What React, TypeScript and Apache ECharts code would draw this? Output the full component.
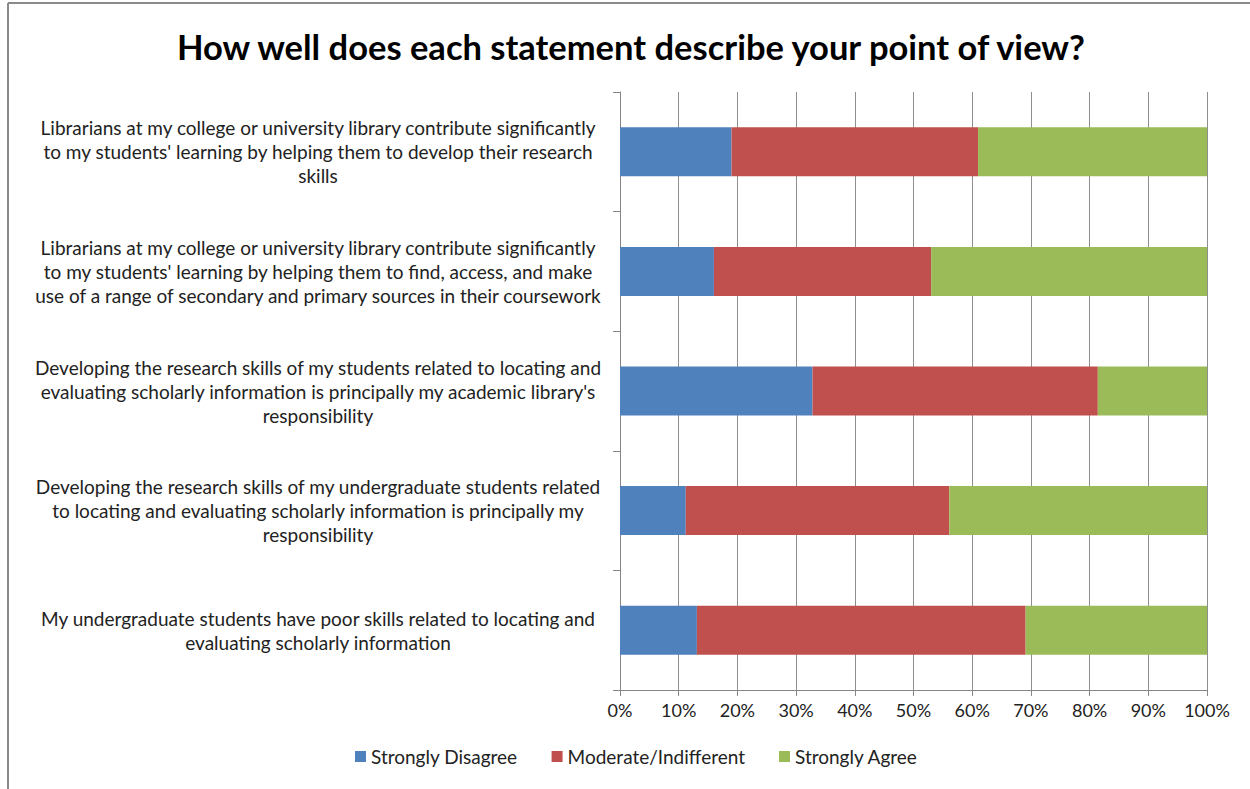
import React, { useEffect, useRef } from "react";
import * as echarts from "echarts";

const categories: string[] = [
  "Librarians at my college or university library contribute significantly\nto my students' learning by helping them to develop their research\nskills",
  "Librarians at my college or university library contribute significantly\nto my students' learning by helping them to find, access, and make\nuse of a range of secondary and primary sources in their coursework",
  "Developing the research skills of my students related to locating and\nevaluating scholarly information is principally my academic library's\nresponsibility",
  "Developing the research skills of my undergraduate students related\nto locating and evaluating scholarly information is principally my\nresponsibility",
  "My undergraduate students have poor skills related to locating and\nevaluating scholarly information",
];

const stronglyDisagree: number[] = [19, 16, 32.8, 11.2, 13.1];
const moderateIndifferent: number[] = [42, 37, 48.6, 44.9, 56];
const stronglyAgree: number[] = [39, 47, 18.6, 43.9, 30.9];

const seriesNames: string[] = ["Strongly Disagree", "Moderate/Indifferent", "Strongly Agree"];
const seriesColors: string[] = ["#4F81BD", "#C0504D", "#9BBB59"];

const FONT = "Lato";

export default function App() {
  const ref = useRef<HTMLDivElement>(null);
  useEffect(() => {
    if (!ref.current) return;
    const chart = echarts.init(ref.current, null, { renderer: "svg" });
    const values = [stronglyDisagree, moderateIndifferent, stronglyAgree];
    chart.setOption({
      animation: false,
      backgroundColor: "#ffffff",
      textStyle: { fontFamily: FONT },
      title: {
        text: "How well does each statement describe your point of view?",
        left: 172,
        top: 24,
        textStyle: { fontFamily: FONT, fontSize: 34.5, fontWeight: "bold", color: "#000" },
      },
      graphic: [
        { type: "line", shape: { x1: 8, y1: 3, x2: 1250, y2: 3 }, style: { stroke: "#8a8a8a", lineWidth: 2 } },
        { type: "line", shape: { x1: 8, y1: 3, x2: 8, y2: 789 }, style: { stroke: "#8a8a8a", lineWidth: 2 } },
      ],
      legend: {
        bottom: 18,
        left: 350,
        itemWidth: 11,
        itemHeight: 11,
        itemGap: 34,
        icon: "rect",
        textStyle: { fontFamily: FONT, fontSize: 19, color: "#222" },
        data: seriesNames,
      },
      grid: { left: 620, right: 43, top: 92, bottom: 99 },
      xAxis: {
        type: "value",
        min: 0,
        max: 100,
        interval: 10,
        axisLine: { show: true, lineStyle: { color: "#868686" } },
        axisTick: { show: true, length: 6, lineStyle: { color: "#868686" } },
        splitLine: { show: true, lineStyle: { color: "#8e8e8e" } },
        axisLabel: {
          formatter: "{value}%",
          fontFamily: FONT,
          fontSize: 18,
          color: "#222",
          margin: 11,
        },
      },
      yAxis: {
        type: "category",
        inverse: true,
        data: categories,
        axisLine: { show: true, lineStyle: { color: "#868686" } },
        axisTick: { show: true, length: 7, lineStyle: { color: "#868686" } },
        axisLabel: {
          align: "center",
          margin: 302,
          fontFamily: FONT,
          fontSize: 19,
          lineHeight: 24,
          color: "#222",
        },
      },
      series: seriesNames.map((name, i) => ({
        name,
        type: "bar",
        stack: "total",
        barWidth: "41%",
        itemStyle: { color: seriesColors[i] },
        data: values[i],
      })),
    });
    return () => chart.dispose();
  }, []);
  return (
    <div
      ref={ref}
      style={{ position: "fixed", left: 0, top: 0, width: 1250, height: 789 }}
    />
  );
}
